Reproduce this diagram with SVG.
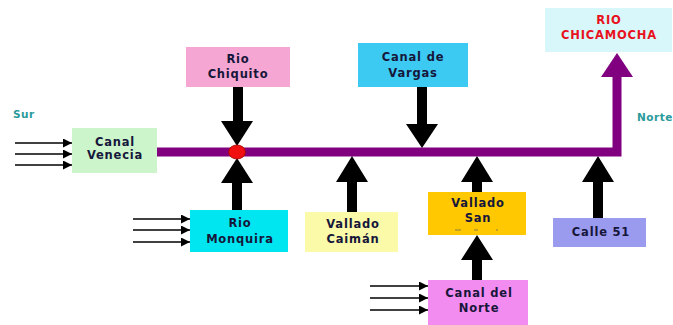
<svg xmlns="http://www.w3.org/2000/svg" width="673" height="325" viewBox="0 0 673 325">
<defs>
<marker id="ah" viewBox="0 0 10 10" refX="10" refY="5" markerWidth="12" markerHeight="9" markerUnits="userSpaceOnUse" orient="auto">
<path d="M0,0 L10,5 L0,10 Z" fill="#000"/>
</marker>
</defs>
<style>
.t{font-family:"DejaVu Sans","Liberation Sans",sans-serif;font-weight:bold;font-size:11.5px;letter-spacing:0.8px;fill:#16163a;text-anchor:middle}
.red{fill:#e8121e}
.lbl{font-family:"DejaVu Sans","Liberation Sans",sans-serif;font-weight:bold;font-size:10.5px;letter-spacing:0.5px;fill:#2a9a9a}
.thin{stroke:#000;stroke-width:1.5;marker-end:url(#ah)}
.big{fill:#000}
</style>
<rect width="673" height="325" fill="#fff"/>
<g id="connectors">
<path d="M157,152 H617 V76" fill="none" stroke="#800080" stroke-width="9"/>
<polygon points="601,77 633,77 617,53" fill="#800080"/>
<path class="big" d="M233,87 H243 V121 H253 L237,146 L221,121 H233 Z"/>
<path class="big" d="M417,87 H427 V124 H438 L422,148 L406,124 H417 Z"/>
<path class="big" d="M232,210 H242 V183 H253 L237,158 L221,183 H232 Z"/>
<path class="big" d="M347,212 H357 V182 H368 L352,156 L336,182 H347 Z"/>
<path class="big" d="M472,192 H482 V182 H493 L477,156 L461,182 H472 Z"/>
<path class="big" d="M593,218 H603 V182 H614 L598,156 L582,182 H593 Z"/>
<path class="big" d="M472,280 H482 V260 H493 L477,235 L461,260 H472 Z"/>
<line class="thin" x1="15" y1="143" x2="72" y2="143"/>
<line class="thin" x1="15" y1="154" x2="72" y2="154"/>
<line class="thin" x1="15" y1="165" x2="72" y2="165"/>
<line class="thin" x1="133" y1="219" x2="190" y2="219"/>
<line class="thin" x1="133" y1="230" x2="190" y2="230"/>
<line class="thin" x1="133" y1="242" x2="190" y2="242"/>
<line class="thin" x1="370" y1="286" x2="428" y2="286"/>
<line class="thin" x1="370" y1="298" x2="428" y2="298"/>
<line class="thin" x1="370" y1="310" x2="428" y2="310"/>
<ellipse cx="237" cy="152" rx="8.5" ry="7" fill="#f01010" stroke="#a00000" stroke-width="0.8"/>
</g>
<text class="lbl" x="13" y="118">Sur</text>
<text class="lbl" x="637" y="121">Norte</text>
<g id="rio-chiquito">
<rect x="186" y="47" width="104" height="40" fill="#f5a6d2"/>
<text class="t" x="238" y="63">Rio</text>
<text class="t" x="238" y="78">Chiquito</text>
</g>
<g id="canal-vargas">
<rect x="358" y="43" width="110" height="44" fill="#3cc9f2"/>
<text class="t" x="413" y="61">Canal de</text>
<text class="t" x="413" y="77">Vargas</text>
</g>
<g id="rio-chicamocha">
<rect x="545" y="8" width="127" height="44" fill="#d8f7fb"/>
<text class="t red" x="609" y="24">RIO</text>
<text class="t red" x="609" y="39">CHICAMOCHA</text>
</g>
<g id="canal-venecia">
<rect x="72" y="128" width="85" height="45" fill="#ccf5cc"/>
<text class="t" x="115" y="146">Canal</text>
<text class="t" x="115" y="159">Venecia</text>
</g>
<g id="rio-monquira">
<rect x="190" y="210" width="98" height="42" fill="#00e6f0"/>
<text class="t" x="240" y="227">Rio</text>
<text class="t" x="240" y="243">Monquira</text>
</g>
<g id="vallado-caiman">
<rect x="305" y="212" width="93" height="40" fill="#fafaa8"/>
<text class="t" x="353" y="228">Vallado</text>
<text class="t" x="353" y="243">Caimán</text>
</g>
<g id="vallado-san">
<rect x="428" y="192" width="98" height="43" fill="#ffc800"/>
<text class="t" x="478" y="207">Vallado</text>
<text class="t" x="478" y="222">San</text>
<path d="M455,230 H461 M474,230 H478 M496,230 H498" stroke="#8a7a40" stroke-width="1"/>
</g>
<g id="calle-51">
<rect x="553" y="218" width="93" height="29" fill="#9a9aee"/>
<text class="t" x="601" y="236">Calle 51</text>
</g>
<g id="canal-norte">
<rect x="428" y="280" width="100" height="45" fill="#f28cf0"/>
<text class="t" x="479" y="297">Canal del</text>
<text class="t" x="479" y="312">Norte</text>
</g>
</svg>
